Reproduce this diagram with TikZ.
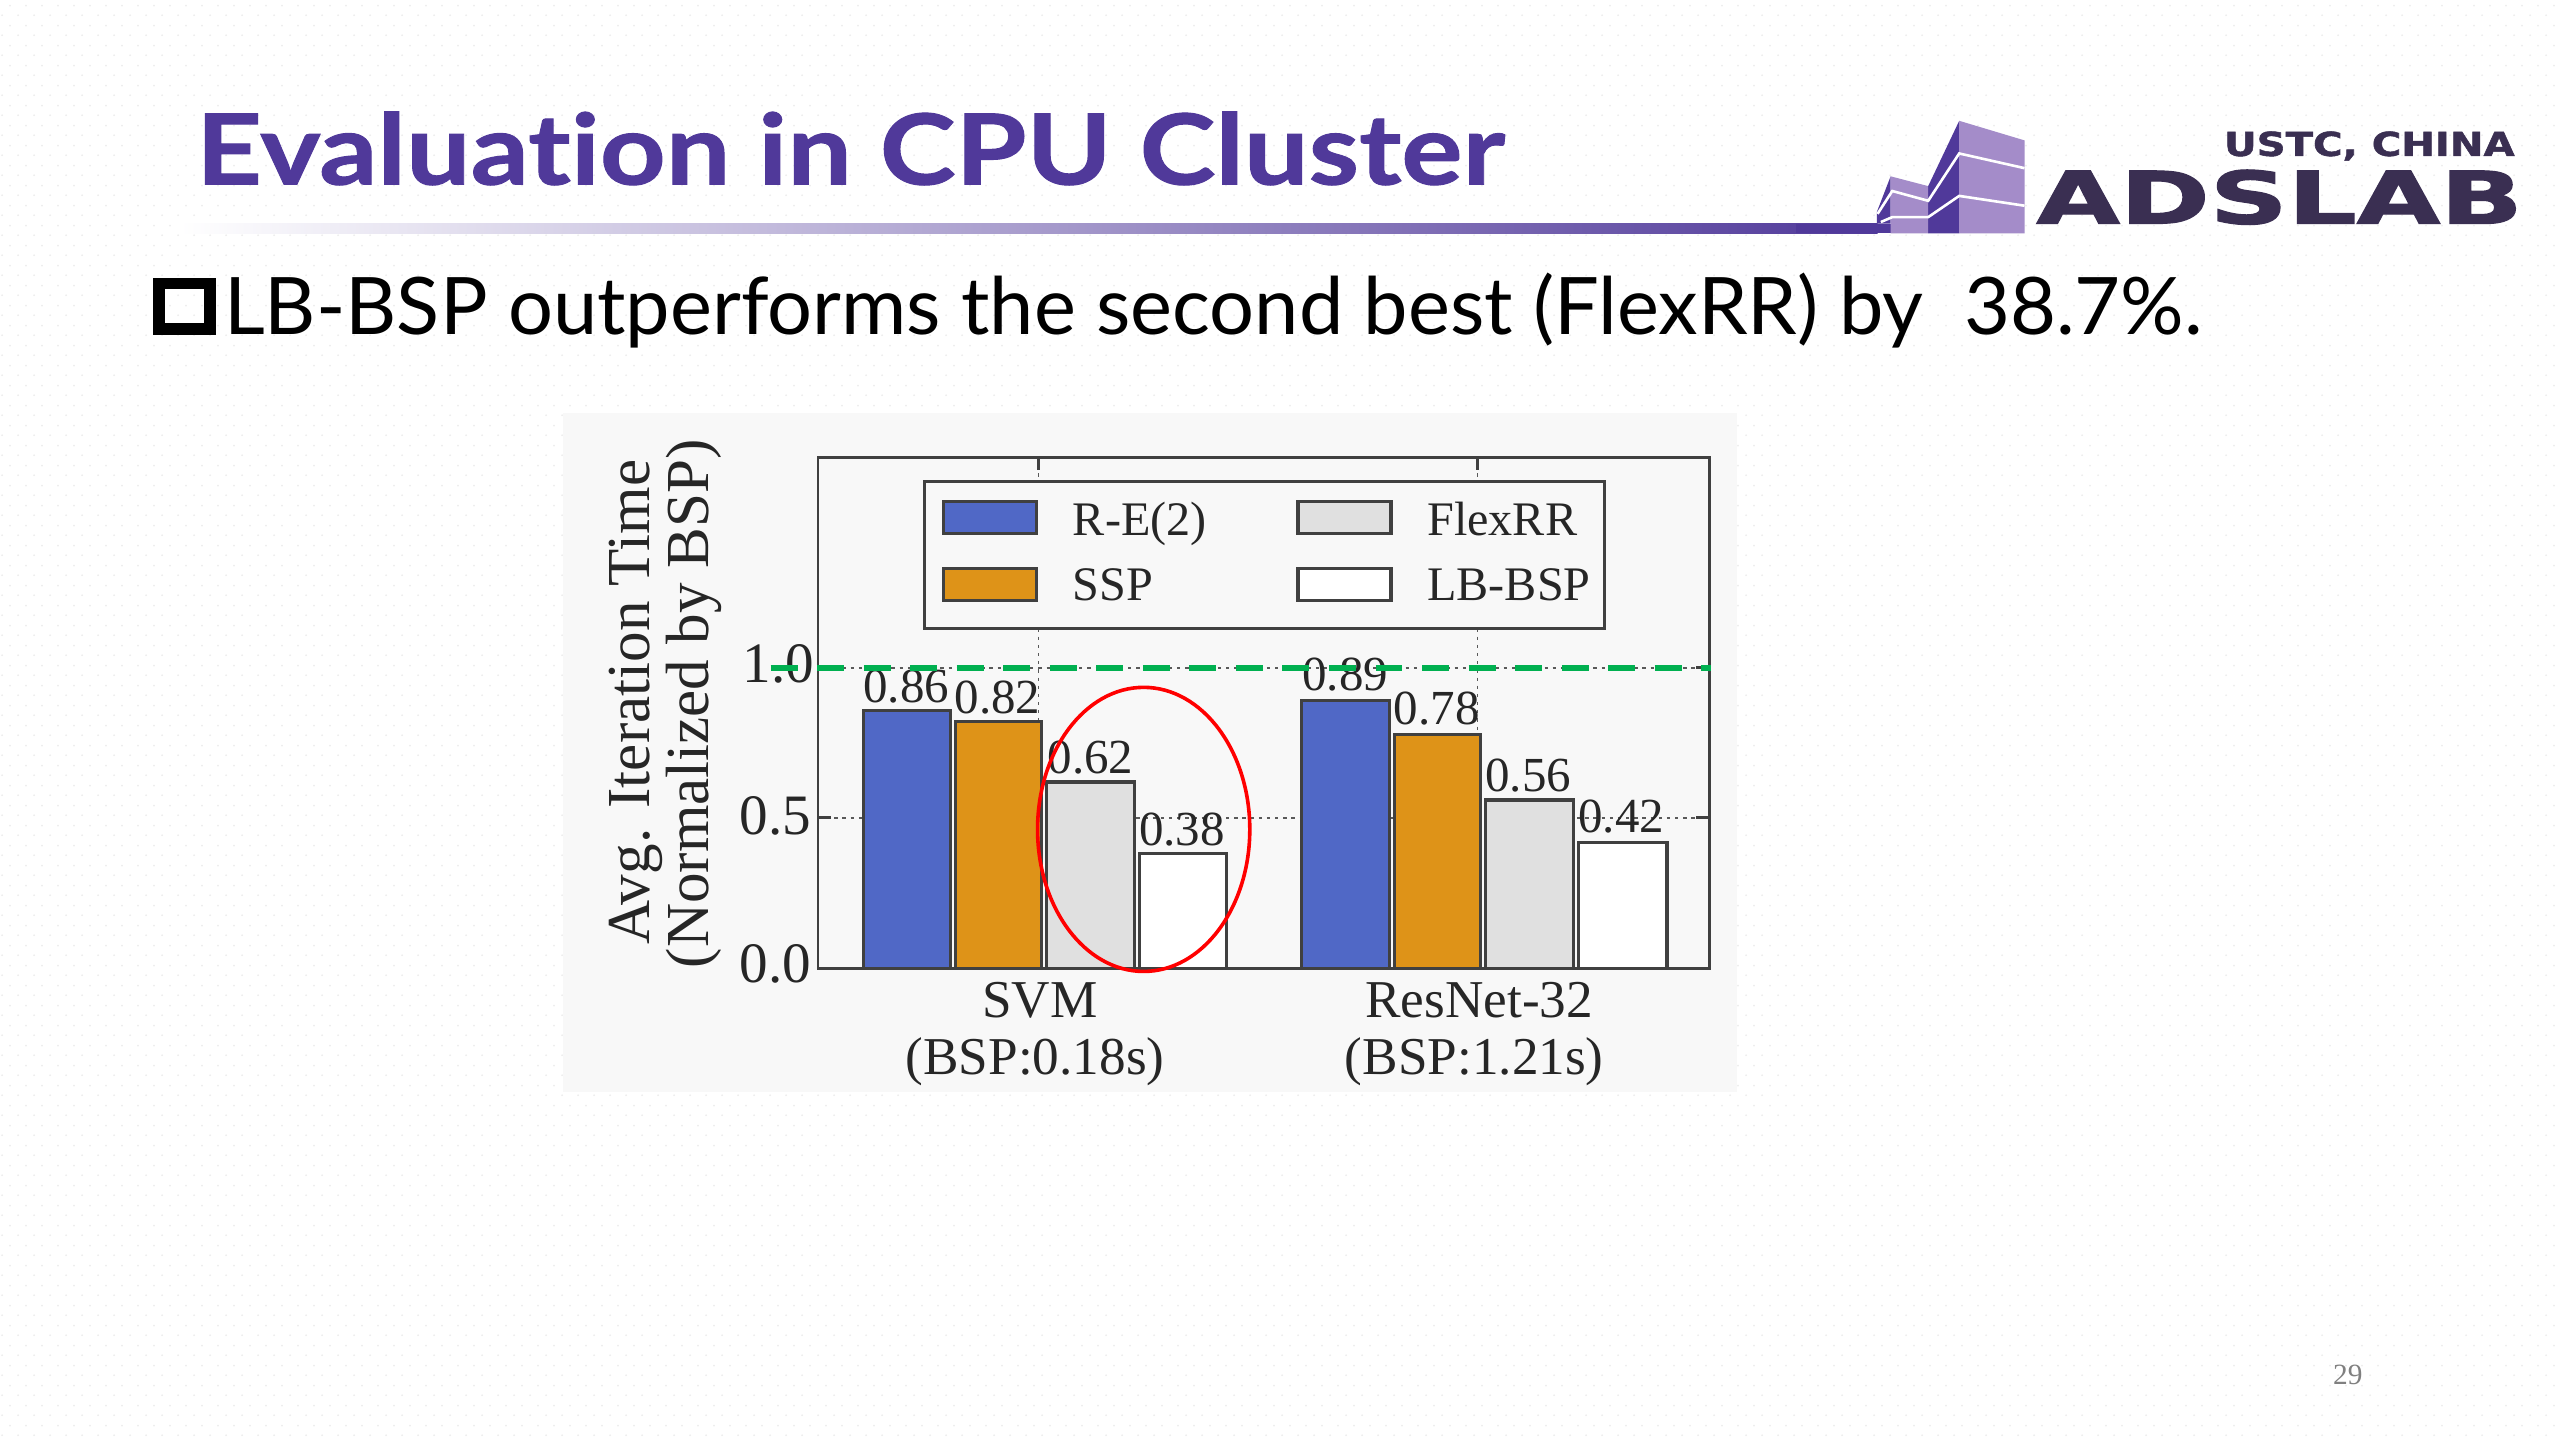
\documentclass[tikz,border=0pt]{standalone}
\usepackage{fontspec}
\usetikzlibrary{patterns}
\setmainfont{Liberation Serif}
\newfontfamily\slidefont[Ligatures=NoCommon]{Lato}
\newfontfamily\titlefont[Ligatures=NoCommon,FakeStretch=1.17,FakeBold=1]{Lato}
\newfontfamily\logofont[FakeBold=1.5]{DejaVu Sans}
\definecolor{titlepurple}{HTML}{50399A}
\definecolor{logoink}{HTML}{3A2F52}
\definecolor{logolight}{HTML}{A48CC9}
\definecolor{panelgray}{HTML}{F8F8F8}
\definecolor{barblue}{HTML}{5068C6}
\definecolor{barorange}{HTML}{DE9318}
\definecolor{bargray}{HTML}{E0E0E0}
\definecolor{goalgreen}{HTML}{00B050}
\pgfdeclarepatternformonly{slidedots}{\pgfqpoint{0pt}{0pt}}{\pgfqpoint{10pt}{12pt}}{\pgfqpoint{10pt}{12pt}}{
  \pgfpathcircle{\pgfqpoint{2pt}{3pt}}{0.6pt}
  \pgfpathcircle{\pgfqpoint{7pt}{9pt}}{0.6pt}
  \pgfusepath{fill}
}
\begin{document}
\begin{tikzpicture}[x=1pt,y=-1pt]
        \tikzstyle{axisline}=[draw=black!75,line width=1.8pt]
        \tikzstyle{bar}=[draw=black!75,line width=1.9pt]
        \tikzstyle{gridline}=[black!65,line width=1pt,dash pattern=on 2pt off 3pt]
        \tikzstyle{value}=[font=\fontsize{30}{30}\selectfont,text=black!85,inner sep=0pt,anchor=base]
        \tikzstyle{ticklabel}=[font=\fontsize{35}{35}\selectfont,text=black!85,inner sep=0pt,anchor=base east]
        \tikzstyle{legendtext}=[font=\fontsize{29.5}{29.5}\selectfont,text=black!85,inner sep=0pt,anchor=base west]
        \tikzstyle{grouplabel}=[font=\fontsize{32.6}{32.6}\selectfont,text=black!85,inner sep=0pt,anchor=base]
        \tikzstyle{axislabel}=[font=\fontsize{37.4}{37.4}\selectfont,text=black!85,inner sep=0pt,anchor=base,rotate=90]
        \useasboundingbox (0,0) rectangle (1568,882);
        \fill[white] (0,0) rectangle (1568,882);
        \fill[pattern=slidedots,pattern color=black!7] (0,0) rectangle (1568,882);
        % title and rule
        \node[font=\titlefont\bfseries\fontsize{60}{60}\selectfont,text=titlepurple,inner sep=0pt,anchor=base west] (title) at (120,113) {Evaluation in CPU Cluster};
        \fill[left color=white,right color=titlepurple] (110,137) rectangle (1150,143);
        % logo
        \fill[titlepurple] (1100,137) rectangle (1160,143);
        \fill[titlepurple] (1200,74) -- (1181,114) -- (1181,143) -- (1200,143) -- cycle;
        \fill[logolight] (1200,74) -- (1240,86) -- (1240,143) -- (1200,143) -- cycle;
        \fill[titlepurple] (1158,108) -- (1149.5,130) -- (1149.5,137) -- (1158,137) -- cycle;
        \fill[logolight] (1158,108) -- (1181,114) -- (1181,143) -- (1158,143) -- cycle;
        \draw[white,line width=1.6pt] (1240,103) -- (1200,94) -- (1181,123) -- (1159,117) -- (1150,131);
        \draw[white,line width=1.6pt] (1240,126) -- (1200,120) -- (1181,133) -- (1159,133) -- (1152,136);
        \node[font=\logofont\bfseries,text=logoink,inner sep=0pt,anchor=base west] (logoname) at (1247,137) {\resizebox{298pt}{33pt}{ADSLAB}};
        \node[font=\logofont\bfseries,text=logoink,inner sep=0pt,anchor=base west] (logoplace) at (1362,95.5) {\resizebox{178pt}{15pt}{USTC, CHINA}};
        % bullet line
        \draw[black,line width=7pt] (97.5,173.5) rectangle (128.5,201.5);
        \node[font=\slidefont\fontsize{48.6}{48.6}\selectfont,text=black,inner sep=0pt,anchor=base west] (claim) at (137,205) {LB-BSP outperforms the second best (FlexRR) by\ \ 38.7\%.};
        % chart panel
        \fill[panelgray] (345,253) rectangle (1064,669);
        \draw[gridline] (501,409) -- (1047,409);
        \draw[gridline] (501,501) -- (1047,501);
        \draw[gridline] (636,280) -- (636,593);
        \draw[gridline] (905,280) -- (905,593);
        % bars
        \foreach \barleft/\barright/\bartop/\barcolor in {529/582/435/barblue,585/638/442/barorange,641/695/479/bargray,698/751/523/white,797/851/429/barblue,854/907/450/barorange,910/964/490/bargray,967/1021/516/white}
          \draw[bar,fill=\barcolor] (\barleft,593) rectangle (\barright,\bartop);
        % frame and ticks
        \draw[axisline] (501,280) rectangle (1047,593);
        \draw[axisline] (636,280) -- (636,288);
        \draw[axisline] (905,280) -- (905,288);
        \draw[axisline] (501,409) -- (509,409);
        \draw[axisline] (501,501) -- (509,501);
        \draw[axisline] (1047,409) -- (1039,409);
        \draw[axisline] (1047,501) -- (1039,501);
        % legend
        \draw[axisline,fill=panelgray] (566,295) rectangle (983,385);
        \draw[bar,fill=barblue] (578,307) rectangle (635,327);
        \draw[bar,fill=barorange] (578,348) rectangle (635,368);
        \draw[bar,fill=bargray] (795,307) rectangle (852,327);
        \draw[bar,fill=white] (795,348) rectangle (852,368);
        \node[legendtext] (leg1) at (657,328) {R-E(2)};
        \node[legendtext] (leg2) at (657,368) {SSP};
        \node[legendtext] (leg3) at (874,328) {FlexRR};
        \node[legendtext] (leg4) at (874,368) {LB-BSP};
        % value labels
        \node[value] (v1) at (555,430) {0.86};
        \node[value] (v2) at (611,437) {0.82};
        \node[value] (v3) at (668,474) {0.62};
        \node[value] (v4) at (724,518) {0.38};
        \node[value] (v5) at (824,423) {0.89};
        \node[value] (v6) at (880,444) {0.78};
        \node[value] (v7) at (936,485) {0.56};
        \node[value] (v8) at (993,510) {0.42};
        % axis text
        \node[ticklabel] (y1) at (499,418) {1.0};
        \node[ticklabel] (y2) at (497,511) {0.5};
        \node[ticklabel] (y3) at (497,602) {0.0};
        \node[grouplabel] (g1) at (637,623) {SVM};
        \node[grouplabel] (g2) at (634,658) {(BSP:0.18s)};
        \node[grouplabel] (g3) at (906,623) {ResNet-32};
        \node[grouplabel] (g4) at (903,658) {(BSP:1.21s)};
        \node[axislabel] (ylab1) at (398,430) {Avg. Iteration Time};
        \node[axislabel] (ylab2) at (434,431) {(Normalized by BSP)};
        % goal line and highlight
        \draw[goalgreen,line width=3.5pt,dash pattern=on 16.5pt off 12pt] (472,409) -- (1048,409);
        \draw[red,line width=2.2pt] (700.5,508) ellipse (65 and 87);
        \node[font=\fontsize{18}{18}\selectfont,text=black!50,inner sep=0pt] (pagenum) at (1438,842) {29};
\end{tikzpicture}
\end{document}
